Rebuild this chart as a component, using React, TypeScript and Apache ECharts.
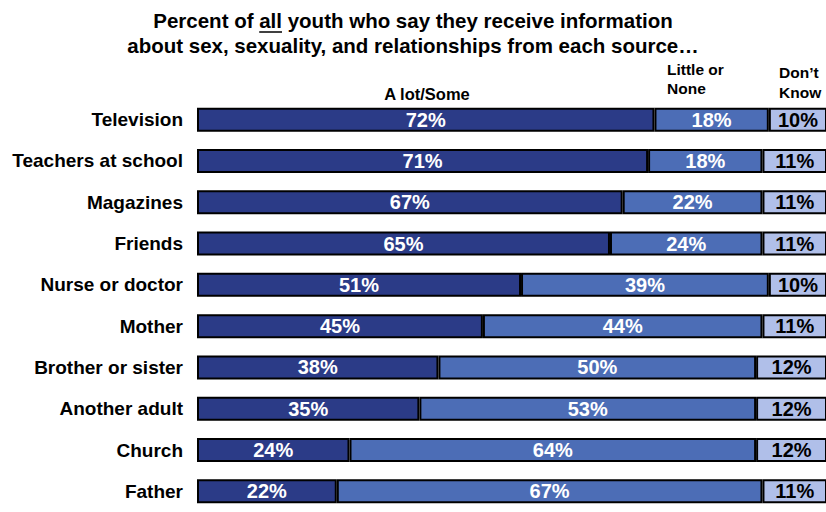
import React, { useEffect, useRef } from "react";
import * as echarts from "echarts";

const categories = [
  "Television",
  "Teachers at school",
  "Magazines",
  "Friends",
  "Nurse or doctor",
  "Mother",
  "Brother or sister",
  "Another adult",
  "Church",
  "Father",
];
const aLotSome = [72, 71, 67, 65, 51, 45, 38, 35, 24, 22];
const littleNone = [18, 18, 22, 24, 39, 44, 50, 53, 64, 67];
const dontKnow = [10, 11, 11, 11, 10, 11, 12, 12, 12, 11];
const seriesNames = ["A lot/Some", "Little or None", "Don't Know"];
const titleParts = ["Percent of ", "all", " youth who say they receive information"];
const titleLine2 = "about sex, sexuality, and relationships from each source…";

const FONT = "'Liberation Sans', Arial, sans-serif";

function measure(text: string, font: string): number {
  const c = document.createElement("canvas");
  const ctx = c.getContext("2d");
  if (!ctx) return text.length * 10;
  ctx.font = font;
  return ctx.measureText(text).width;
}

export default function App() {
  const ref = useRef<HTMLDivElement>(null);
  useEffect(() => {
    if (!ref.current) return;
    const chart = echarts.init(ref.current, undefined, { renderer: "svg" });
    const titleFont = "bold 20.5px 'Liberation Sans', Arial, sans-serif";
    const headFont = "bold 15.5px 'Liberation Sans', Arial, sans-serif";
    const full = titleParts.join("");
    const fullW = measure(full, titleFont);
    const preW = measure(titleParts[0], titleFont);
    const allW = measure(titleParts[1], titleFont);
    const cx = 413;
    const startX = cx - fullW / 2;
    const ulX1 = startX + preW;
    const ulX2 = ulX1 + allW;

    const mkSeries = (name: string, data: number[], color: string, labelColor: string) => ({
      name,
      type: "bar",
      stack: "total",
      data,
      barWidth: 24,
      itemStyle: { color, borderColor: "#000", borderWidth: 2 },
      label: {
        show: true,
        position: "inside",
        formatter: (p: any) => p.value + "%",
        color: labelColor,
        fontFamily: FONT,
        fontWeight: "bold",
        fontSize: 20,
      },
    });

    chart.setOption({
      animation: false,
      grid: { left: 197, top: 99, width: 629, height: 420 },
      xAxis: { type: "value", min: 0, max: 99, show: false },
      yAxis: {
        type: "category",
        data: categories,
        inverse: true,
        axisLine: { show: false },
        axisTick: { show: false },
        axisLabel: {
          margin: 14,
          color: "#000",
          fontFamily: FONT,
          fontWeight: "bold",
          fontSize: 19,
        },
      },
      series: [
        mkSeries(seriesNames[0], aLotSome, "#2b3b87", "#fff"),
        mkSeries(seriesNames[1], littleNone, "#4c6db6", "#fff"),
        mkSeries(seriesNames[2], dontKnow, "#b0bfe9", "#000"),
      ],
      graphic: [
        {
          type: "text",
          x: cx,
          y: 20,
          style: {
            text: full,
            font: titleFont,
            fill: "#000",
            align: "center",
            verticalAlign: "middle",
          },
        },
        {
          type: "line",
          shape: { x1: ulX1, y1: 32, x2: ulX2, y2: 32 },
          style: { stroke: "#000", lineWidth: 1.5 },
        },
        {
          type: "text",
          x: cx,
          y: 45,
          style: {
            text: titleLine2,
            font: titleFont,
            fill: "#000",
            align: "center",
            verticalAlign: "middle",
          },
        },
        {
          type: "text",
          x: 427,
          y: 94,
          style: {
            text: seriesNames[0],
            font: "bold 16.5px 'Liberation Sans', Arial, sans-serif",
            fill: "#000",
            align: "center",
            verticalAlign: "middle",
          },
        },
        {
          type: "text",
          x: 667,
          y: 79,
          style: {
            text: "Little or\nNone",
            font: headFont,
            lineHeight: 19,
            fill: "#000",
            align: "left",
            verticalAlign: "middle",
          },
        },
        {
          type: "text",
          x: 779,
          y: 82,
          style: {
            text: "Don’t\nKnow",
            font: headFont,
            lineHeight: 20,
            fill: "#000",
            align: "left",
            verticalAlign: "middle",
          },
        },
      ],
    });
    return () => chart.dispose();
  }, []);
  return <div ref={ref} style={{ width: 826, height: 512, position: "absolute", left: 0, top: 0 }} />;
}
